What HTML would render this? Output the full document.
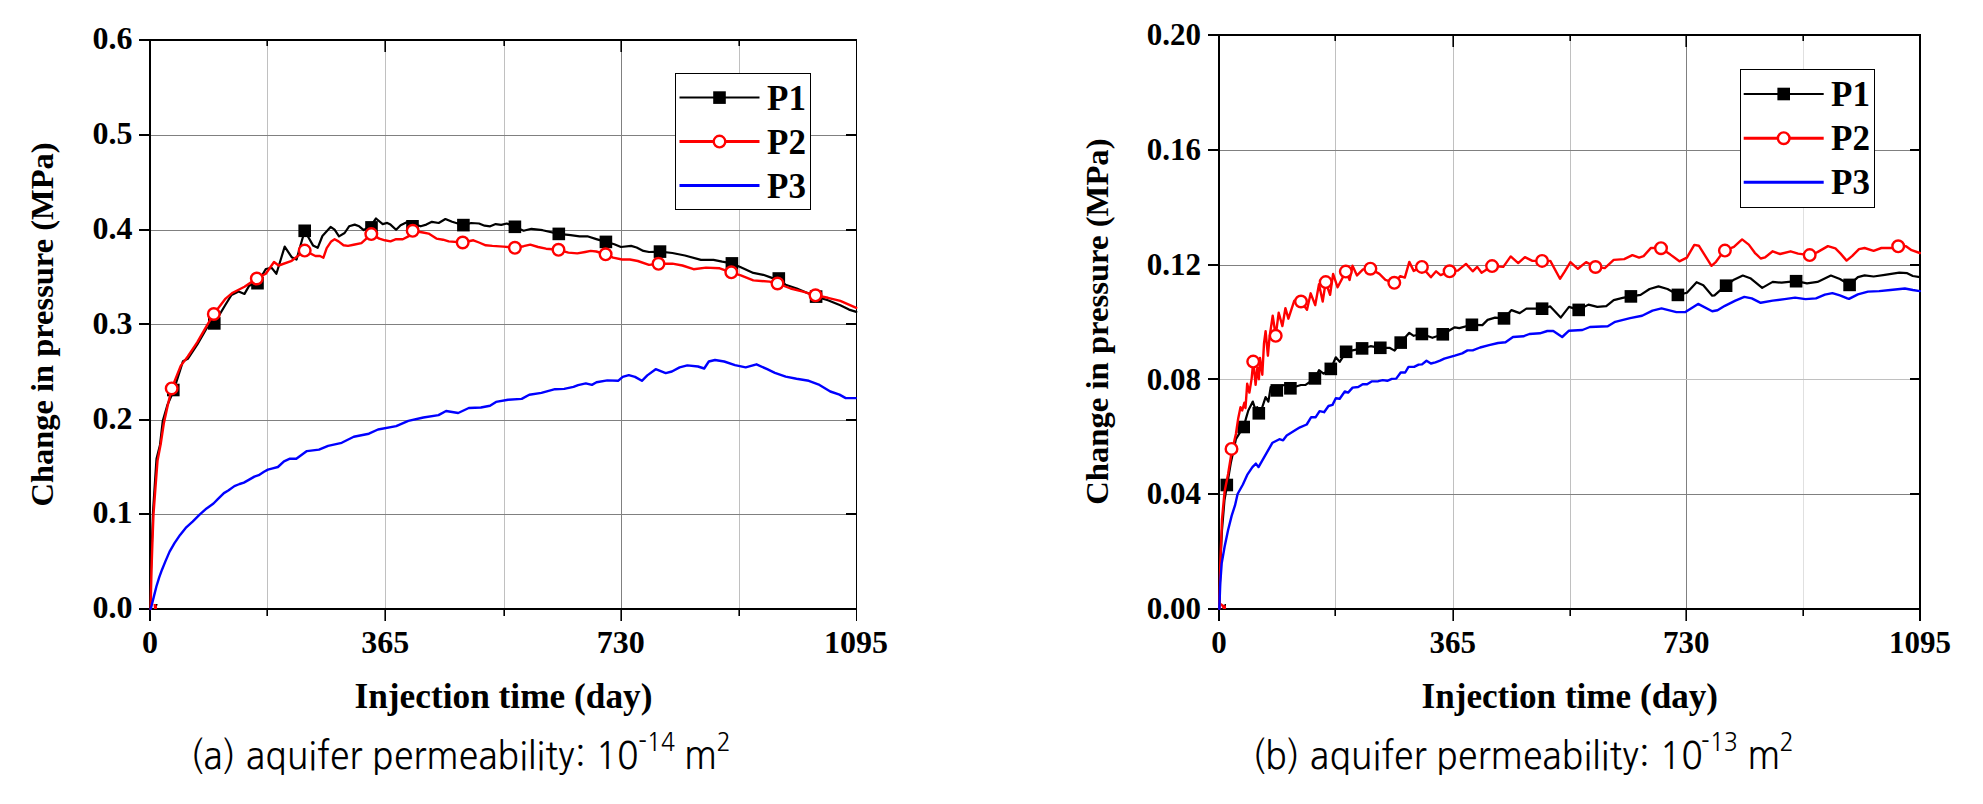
<!DOCTYPE html>
<html><head><meta charset="utf-8"><title>Change in pressure</title>
<style>html,body{margin:0;padding:0;background:#fff;}svg{display:block;}</style></head>
<body><svg width="1983" height="804" viewBox="0 0 1983 804">
<rect width="1983" height="804" fill="#fff"/>
<path d="M267.5 40 V609" stroke="#c0c0c0" stroke-width="1" fill="none"/>
<path d="M385.5 40 V609" stroke="#c0c0c0" stroke-width="1" fill="none"/>
<path d="M504.5 40 V609" stroke="#c0c0c0" stroke-width="1" fill="none"/>
<path d="M621.5 40 V609" stroke="#808080" stroke-width="1" fill="none"/>
<path d="M739.5 40 V609" stroke="#c0c0c0" stroke-width="1" fill="none"/>
<path d="M150 514.5 H856" stroke="#808080" stroke-width="1" fill="none"/>
<path d="M150 420.5 H856" stroke="#808080" stroke-width="1" fill="none"/>
<path d="M150 324.5 H856" stroke="#808080" stroke-width="1" fill="none"/>
<path d="M150 230.5 H856" stroke="#808080" stroke-width="1" fill="none"/>
<path d="M150 135.5 H856" stroke="#808080" stroke-width="1" fill="none"/>
<path d="M267.2 609 V616 M267.2 40 V46 M385.2 609 V621 M385.2 40 V52 M504.2 609 V616 M504.2 40 V46 M621.2 609 V621 M621.2 40 V52 M739.2 609 V616 M739.2 40 V46" stroke="#000" stroke-width="1.6" fill="none"/>
<path d="M856.5 609 V621" stroke="#000" stroke-width="1" fill="none"/>
<path d="M150 609 V621 M150 609.0 H139 M150 514.0 H139 M856 514.0 H846 M150 420.0 H139 M856 420.0 H846 M150 324.0 H139 M856 324.0 H846 M150 230.0 H139 M856 230.0 H846 M150 135.0 H139 M856 135.0 H846 M150 40.0 H139" stroke="#000" stroke-width="2" fill="none"/>
<path d="M150 40 H856 M150 609 H856 M150 40 V609" stroke="#000" stroke-width="2" fill="none" stroke-linecap="square"/>
<path d="M856.5 39 V610" stroke="#000" stroke-width="1" fill="none"/>
<text x="132.6" y="618.2" text-anchor="end" style="font-family:'Liberation Serif','Times New Roman',serif;font-weight:bold;font-size:32px">0.0</text>
<text x="132.6" y="523.4" text-anchor="end" style="font-family:'Liberation Serif','Times New Roman',serif;font-weight:bold;font-size:32px">0.1</text>
<text x="132.6" y="428.5" text-anchor="end" style="font-family:'Liberation Serif','Times New Roman',serif;font-weight:bold;font-size:32px">0.2</text>
<text x="132.6" y="333.7" text-anchor="end" style="font-family:'Liberation Serif','Times New Roman',serif;font-weight:bold;font-size:32px">0.3</text>
<text x="132.6" y="238.9" text-anchor="end" style="font-family:'Liberation Serif','Times New Roman',serif;font-weight:bold;font-size:32px">0.4</text>
<text x="132.6" y="144.0" text-anchor="end" style="font-family:'Liberation Serif','Times New Roman',serif;font-weight:bold;font-size:32px">0.5</text>
<text x="132.6" y="49.2" text-anchor="end" style="font-family:'Liberation Serif','Times New Roman',serif;font-weight:bold;font-size:32px">0.6</text>
<text x="150.0" y="652.5" text-anchor="middle" style="font-family:'Liberation Serif','Times New Roman',serif;font-weight:bold;font-size:32px">0</text>
<text x="385.3" y="652.5" text-anchor="middle" style="font-family:'Liberation Serif','Times New Roman',serif;font-weight:bold;font-size:32px">365</text>
<text x="620.7" y="652.5" text-anchor="middle" style="font-family:'Liberation Serif','Times New Roman',serif;font-weight:bold;font-size:32px">730</text>
<text x="856.0" y="652.5" text-anchor="middle" style="font-family:'Liberation Serif','Times New Roman',serif;font-weight:bold;font-size:32px">1095</text>
<text x="354.5" y="707.8" textLength="298.0" lengthAdjust="spacingAndGlyphs" style="font-family:'Liberation Serif','Times New Roman',serif;font-weight:bold;font-size:36px">Injection time (day)</text>
<text transform="translate(52.8 324.5) rotate(-90)" x="0" y="0" text-anchor="middle" textLength="364.0" lengthAdjust="spacingAndGlyphs" style="font-family:'Liberation Serif','Times New Roman',serif;font-weight:bold;font-size:32px">Change in pressure (MPa)</text>
<polyline points="150.4,609.0 151.0,570.0 152.0,540.0 153.0,512.0 156.5,458.8 160.0,445.0 162.8,420.7 167.4,405.0 173.6,390.7 183.0,361.2 187.8,358.8 197.2,344.7 206.7,328.1 214.3,323.4 225.6,304.5 231.5,295.0 238.6,291.5 244.5,293.9 249.2,285.6 257.5,283.2 265.8,269.0 271.7,267.9 276.4,273.8 280.0,262.0 284.7,246.6 291.7,257.2 296.5,259.6 301.2,243.0 304.7,230.8 313.0,245.4 317.7,247.8 322.4,236.0 326.7,231.3 330.6,226.9 334.6,229.7 339.0,236.4 344.6,233.0 349.1,226.3 354.7,224.6 359.2,226.3 363.7,230.2 371.3,225.2 376.0,218.5 382.7,224.1 387.2,222.9 390.5,224.6 396.1,229.7 400.6,225.2 406.2,222.4 412.7,223.7 420.7,226.3 426.3,224.6 431.9,221.8 438.7,223.0 445.4,219.0 452.1,221.8 463.5,225.2 471.1,223.0 479.0,223.5 484.6,225.7 490.2,226.3 495.7,224.1 501.2,224.9 506.8,223.5 514.9,226.8 523.6,230.7 531.4,228.8 542.6,230.2 558.8,233.9 570.6,235.2 579.6,236.3 587.4,236.3 596.3,239.1 605.9,241.9 614.3,244.2 621.0,247.0 631.1,245.9 636.6,247.5 643.4,250.9 649.0,252.0 660.0,251.6 672.4,253.0 684.9,255.5 701.0,259.9 713.5,259.9 722.2,261.7 731.9,263.4 740.8,267.3 753.3,272.9 763.2,274.8 771.9,277.9 778.8,278.5 785.6,284.8 796.8,288.5 806.8,292.8 816.1,296.6 827.9,300.3 840.3,305.3 849.0,309.6 856.3,311.9" fill="none" stroke="#000000" stroke-width="2.2" stroke-linejoin="round" stroke-linecap="round"/>
<rect x="167.0" y="383.7" width="12.6" height="12.6" fill="#000"/><rect x="208.0" y="317.1" width="12.6" height="12.6" fill="#000"/><rect x="251.2" y="276.9" width="12.6" height="12.6" fill="#000"/><rect x="298.4" y="224.5" width="12.6" height="12.6" fill="#000"/><rect x="365.2" y="221.1" width="12.6" height="12.6" fill="#000"/><rect x="406.2" y="220.0" width="12.6" height="12.6" fill="#000"/><rect x="457.1" y="218.8" width="12.6" height="12.6" fill="#000"/><rect x="508.6" y="220.5" width="12.6" height="12.6" fill="#000"/><rect x="552.5" y="227.6" width="12.6" height="12.6" fill="#000"/><rect x="599.6" y="235.6" width="12.6" height="12.6" fill="#000"/><rect x="653.7" y="245.3" width="12.6" height="12.6" fill="#000"/><rect x="725.6" y="257.1" width="12.6" height="12.6" fill="#000"/><rect x="772.5" y="272.2" width="12.6" height="12.6" fill="#000"/><rect x="809.8" y="290.3" width="12.6" height="12.6" fill="#000"/>
<polyline points="150.6,609.0 151.5,570.0 152.5,540.0 153.5,514.0 155.4,488.4 157.5,460.9 160.7,444.0 163.9,422.9 168.1,403.8 171.7,388.4 180.7,365.9 187.8,356.5 197.2,342.3 206.7,325.8 213.8,314.0 225.6,298.6 232.7,292.7 244.5,286.8 256.8,278.5 265.8,273.8 274.0,262.0 278.7,265.5 291.7,260.8 304.7,250.6 315.4,256.0 320.0,256.0 323.4,257.7 326.7,248.1 331.2,241.4 334.6,239.2 338.5,241.4 343.5,245.3 348.0,245.9 353.6,244.8 361.4,243.1 371.3,234.1 379.3,238.6 384.9,240.3 390.5,241.4 396.1,239.2 402.8,239.2 408.4,236.4 412.7,230.8 423.0,232.5 428.6,233.6 436.4,238.6 443.1,239.7 448.7,241.4 462.7,242.5 473.4,240.3 479.0,242.5 485.7,245.3 492.4,245.9 503.4,246.6 514.9,247.8 523.6,246.2 530.3,244.7 538.1,247.0 546.0,248.7 558.5,249.8 568.4,252.6 577.3,253.4 585.2,252.0 590.7,250.9 596.3,251.5 605.6,254.3 613.1,257.6 622.1,259.5 629.9,259.5 637.8,261.0 649.0,264.9 658.5,263.8 672.4,263.6 682.4,265.5 693.6,269.2 706.0,267.6 719.7,268.3 731.3,272.3 740.8,275.4 753.3,280.4 769.5,281.6 777.5,283.5 790.6,288.5 803.0,291.6 815.5,295.3 827.9,297.8 840.3,300.9 856.3,307.8" fill="none" stroke="#ff0000" stroke-width="2.4" stroke-linejoin="round" stroke-linecap="round"/>
<circle cx="171.7" cy="388.4" r="5.8" fill="#fff" stroke="#f00" stroke-width="2.4"/><circle cx="213.8" cy="314.0" r="5.8" fill="#fff" stroke="#f00" stroke-width="2.4"/><circle cx="256.8" cy="278.5" r="5.8" fill="#fff" stroke="#f00" stroke-width="2.4"/><circle cx="304.7" cy="250.6" r="5.8" fill="#fff" stroke="#f00" stroke-width="2.4"/><circle cx="371.3" cy="234.1" r="5.8" fill="#fff" stroke="#f00" stroke-width="2.4"/><circle cx="412.7" cy="230.8" r="5.8" fill="#fff" stroke="#f00" stroke-width="2.4"/><circle cx="462.7" cy="242.5" r="5.8" fill="#fff" stroke="#f00" stroke-width="2.4"/><circle cx="514.9" cy="247.8" r="5.8" fill="#fff" stroke="#f00" stroke-width="2.4"/><circle cx="558.5" cy="249.8" r="5.8" fill="#fff" stroke="#f00" stroke-width="2.4"/><circle cx="605.6" cy="254.3" r="5.8" fill="#fff" stroke="#f00" stroke-width="2.4"/><circle cx="658.5" cy="263.8" r="5.8" fill="#fff" stroke="#f00" stroke-width="2.4"/><circle cx="731.3" cy="272.3" r="5.8" fill="#fff" stroke="#f00" stroke-width="2.4"/><circle cx="777.5" cy="283.5" r="5.8" fill="#fff" stroke="#f00" stroke-width="2.4"/><circle cx="815.5" cy="295.3" r="5.8" fill="#fff" stroke="#f00" stroke-width="2.4"/>
<polyline points="150.6,609.0 150.8,608.8 153.6,597.6 156.4,586.5 159.2,577.4 162.0,569.7 165.4,561.4 169.6,551.6 174.5,543.2 180.1,534.9 185.7,527.9 192.6,521.6 199.6,514.6 206.6,508.4 213.5,503.5 217.8,499.2 223.9,493.1 228.3,490.5 234.4,486.1 239.6,484.0 243.9,482.6 249.2,479.6 254.4,476.6 258.7,475.2 264.0,471.8 267.9,469.6 272.7,468.3 277.9,467.0 284.0,461.3 290.0,458.7 296.3,458.7 306.9,451.1 319.0,449.6 328.1,445.8 341.7,442.8 353.8,436.7 368.9,433.7 378.0,429.5 396.2,426.1 408.3,420.8 423.4,417.5 438.5,415.1 446.1,411.0 458.2,413.0 468.8,408.0 480.9,407.5 490.0,405.7 496.0,401.9 508.1,399.7 521.7,398.9 529.3,394.8 541.4,392.9 555.0,389.2 564.2,388.9 573.5,386.9 578.1,385.1 585.8,383.4 591.9,384.9 596.5,382.3 607.3,380.4 618.1,380.8 622.7,376.9 628.8,375.1 635.0,376.9 641.9,380.8 647.3,375.4 655.7,369.2 665.7,373.1 671.9,371.5 679.6,367.4 687.3,365.4 698.0,366.5 704.2,368.5 708.8,361.5 715.0,360.0 724.2,361.5 735.0,365.1 745.7,367.4 756.5,364.3 767.2,369.2 774.9,372.8 785.7,376.6 796.5,378.8 808.8,380.8 819.5,384.9 830.3,391.5 839.5,394.6 845.7,398.1 855.7,398.1" fill="none" stroke="#0000ff" stroke-width="2.4" stroke-linejoin="round" stroke-linecap="round"/>
<rect x="675.5" y="73.5" width="135.0" height="136.0" fill="#fff" stroke="#000" stroke-width="1"/>
<line x1="679.5" y1="97.6" x2="759.5" y2="97.6" stroke="#000" stroke-width="2"/>
<rect x="713.2" y="91.3" width="12.6" height="12.6" fill="#000"/>
<line x1="679.5" y1="141.6" x2="759.5" y2="141.6" stroke="#f00" stroke-width="3"/>
<circle cx="719.5" cy="141.6" r="5.8" fill="#fff" stroke="#f00" stroke-width="2.4"/>
<line x1="679.5" y1="185.6" x2="759.5" y2="185.6" stroke="#00f" stroke-width="3"/>
<text x="767.0" y="109.6" style="font-family:'Liberation Serif','Times New Roman',serif;font-weight:bold;font-size:35px">P1</text>
<text x="767.0" y="153.6" style="font-family:'Liberation Serif','Times New Roman',serif;font-weight:bold;font-size:35px">P2</text>
<text x="767.0" y="197.6" style="font-family:'Liberation Serif','Times New Roman',serif;font-weight:bold;font-size:35px">P3</text>
<path d="M1335.5 35 V609" stroke="#c0c0c0" stroke-width="1" fill="none"/>
<path d="M1453.5 35 V609" stroke="#c0c0c0" stroke-width="1" fill="none"/>
<path d="M1570.5 35 V609" stroke="#c0c0c0" stroke-width="1" fill="none"/>
<path d="M1686.5 35 V609" stroke="#808080" stroke-width="1" fill="none"/>
<path d="M1803.5 35 V609" stroke="#e0e0e0" stroke-width="1" fill="none"/>
<path d="M1219 494.5 H1920" stroke="#808080" stroke-width="1" fill="none"/>
<path d="M1219 379.5 H1920" stroke="#c0c0c0" stroke-width="1" fill="none"/>
<path d="M1219 265.5 H1920" stroke="#808080" stroke-width="1" fill="none"/>
<path d="M1219 150.5 H1920" stroke="#808080" stroke-width="1" fill="none"/>
<path d="M1335.2 609 V616 M1335.2 35 V41 M1453.2 609 V621 M1453.2 35 V47 M1570.2 609 V616 M1570.2 35 V41 M1686.2 609 V621 M1686.2 35 V47 M1803.2 609 V616 M1803.2 35 V41" stroke="#000" stroke-width="1.6" fill="none"/>
<path d="M1920.0 609 V621" stroke="#000" stroke-width="2" fill="none"/>
<path d="M1219 609 V621 M1219 609.0 H1208 M1219 494.0 H1208 M1920 494.0 H1910 M1219 379.0 H1208 M1920 379.0 H1910 M1219 265.0 H1208 M1920 265.0 H1910 M1219 150.0 H1208 M1920 150.0 H1910 M1219 35.0 H1208" stroke="#000" stroke-width="2" fill="none"/>
<path d="M1219 35 H1920 M1219 609 H1920 M1219 35 V609" stroke="#000" stroke-width="2" fill="none" stroke-linecap="square"/>
<path d="M1920.0 34 V610" stroke="#000" stroke-width="2" fill="none"/>
<text x="1201.0" y="619.1" text-anchor="end" style="font-family:'Liberation Serif','Times New Roman',serif;font-weight:bold;font-size:31px">0.00</text>
<text x="1201.0" y="504.3" text-anchor="end" style="font-family:'Liberation Serif','Times New Roman',serif;font-weight:bold;font-size:31px">0.04</text>
<text x="1201.0" y="389.5" text-anchor="end" style="font-family:'Liberation Serif','Times New Roman',serif;font-weight:bold;font-size:31px">0.08</text>
<text x="1201.0" y="274.7" text-anchor="end" style="font-family:'Liberation Serif','Times New Roman',serif;font-weight:bold;font-size:31px">0.12</text>
<text x="1201.0" y="159.9" text-anchor="end" style="font-family:'Liberation Serif','Times New Roman',serif;font-weight:bold;font-size:31px">0.16</text>
<text x="1201.0" y="45.1" text-anchor="end" style="font-family:'Liberation Serif','Times New Roman',serif;font-weight:bold;font-size:31px">0.20</text>
<text x="1219.0" y="652.5" text-anchor="middle" style="font-family:'Liberation Serif','Times New Roman',serif;font-weight:bold;font-size:31px">0</text>
<text x="1452.7" y="652.5" text-anchor="middle" style="font-family:'Liberation Serif','Times New Roman',serif;font-weight:bold;font-size:31px">365</text>
<text x="1686.3" y="652.5" text-anchor="middle" style="font-family:'Liberation Serif','Times New Roman',serif;font-weight:bold;font-size:31px">730</text>
<text x="1920.0" y="652.5" text-anchor="middle" style="font-family:'Liberation Serif','Times New Roman',serif;font-weight:bold;font-size:31px">1095</text>
<text x="1421.5" y="707.8" textLength="296.5" lengthAdjust="spacingAndGlyphs" style="font-family:'Liberation Serif','Times New Roman',serif;font-weight:bold;font-size:36px">Injection time (day)</text>
<text transform="translate(1107.8 321.6) rotate(-90)" x="0" y="0" text-anchor="middle" textLength="366.3" lengthAdjust="spacingAndGlyphs" style="font-family:'Liberation Serif','Times New Roman',serif;font-weight:bold;font-size:32px">Change in pressure (MPa)</text>
<polyline points="1219.3,608.9 1220.5,560.0 1222.0,530.0 1224.5,500.0 1227.2,484.5 1230.7,463.6 1235.9,439.2 1240.2,432.2 1243.7,427.0 1246.0,418.4 1248.3,410.5 1252.8,401.6 1255.0,408.3 1257.3,407.2 1260.0,417.2 1262.3,407.2 1265.6,397.1 1268.4,401.6 1270.7,387.0 1275.2,390.4 1280.7,386.0 1285.2,384.8 1290.4,388.3 1300.9,385.0 1305.6,384.8 1314.9,378.4 1319.0,370.2 1323.5,373.6 1330.8,368.9 1335.8,357.3 1339.7,361.8 1346.1,351.8 1353.7,350.1 1362.1,348.4 1370.5,346.2 1380.3,347.8 1389.5,347.8 1394.6,350.6 1400.7,342.6 1409.3,332.8 1413.7,335.8 1421.9,334.0 1432.4,337.8 1442.8,334.3 1454.8,327.3 1459.3,328.1 1471.9,324.8 1482.4,325.1 1487.6,319.9 1495.1,317.6 1504.0,318.4 1511.5,310.1 1519.7,313.1 1526.4,308.7 1542.1,308.7 1550.3,306.4 1560.7,317.6 1569.0,306.9 1578.7,309.9 1588.4,304.6 1597.3,306.9 1606.3,306.1 1613.7,300.1 1622.7,297.9 1630.9,296.4 1640.6,294.9 1649.6,289.0 1658.5,286.4 1667.5,289.0 1677.9,294.9 1686.9,292.7 1696.6,282.2 1703.3,285.2 1712.2,295.7 1714.5,295.4 1720.4,290.1 1726.1,285.7 1733.9,279.7 1742.8,275.5 1750.3,278.2 1762.2,287.9 1772.7,281.9 1781.6,282.7 1796.1,281.2 1807.0,283.4 1817.5,281.9 1830.9,275.5 1839.9,279.0 1849.6,284.9 1857.9,277.1 1864.6,275.4 1873.6,276.5 1884.8,274.9 1899.3,272.6 1907.2,273.2 1912.8,276.0 1919.8,277.1" fill="none" stroke="#000000" stroke-width="2.2" stroke-linejoin="round" stroke-linecap="round"/>
<rect x="1220.5" y="478.7" width="12.6" height="12.6" fill="#000"/><rect x="1237.4" y="420.7" width="12.6" height="12.6" fill="#000"/><rect x="1252.5" y="407.0" width="12.6" height="12.6" fill="#000"/><rect x="1270.5" y="384.1" width="12.6" height="12.6" fill="#000"/><rect x="1284.1" y="382.0" width="12.6" height="12.6" fill="#000"/><rect x="1308.6" y="372.1" width="12.6" height="12.6" fill="#000"/><rect x="1324.5" y="362.6" width="12.6" height="12.6" fill="#000"/><rect x="1339.8" y="345.5" width="12.6" height="12.6" fill="#000"/><rect x="1355.8" y="342.1" width="12.6" height="12.6" fill="#000"/><rect x="1374.0" y="341.5" width="12.6" height="12.6" fill="#000"/><rect x="1394.4" y="336.3" width="12.6" height="12.6" fill="#000"/><rect x="1415.6" y="327.7" width="12.6" height="12.6" fill="#000"/><rect x="1436.5" y="328.0" width="12.6" height="12.6" fill="#000"/><rect x="1465.6" y="318.5" width="12.6" height="12.6" fill="#000"/><rect x="1497.7" y="312.1" width="12.6" height="12.6" fill="#000"/><rect x="1535.8" y="302.4" width="12.6" height="12.6" fill="#000"/><rect x="1572.4" y="303.6" width="12.6" height="12.6" fill="#000"/><rect x="1624.6" y="290.1" width="12.6" height="12.6" fill="#000"/><rect x="1671.6" y="288.6" width="12.6" height="12.6" fill="#000"/><rect x="1719.8" y="279.4" width="12.6" height="12.6" fill="#000"/><rect x="1789.8" y="274.9" width="12.6" height="12.6" fill="#000"/><rect x="1843.3" y="278.6" width="12.6" height="12.6" fill="#000"/>
<polyline points="1219.3,608.9 1220.3,563.4 1222.0,519.3 1224.6,491.4 1228.1,474.0 1231.5,453.0 1235.9,434.0 1238.2,418.4 1240.5,407.2 1242.2,410.5 1244.4,402.7 1245.5,408.0 1247.2,383.7 1249.4,392.6 1251.7,378.1 1253.3,360.8 1255.6,384.8 1257.3,368.0 1258.9,379.2 1260.0,358.0 1262.3,374.7 1264.0,343.4 1265.6,331.1 1267.9,355.7 1269.6,336.7 1272.7,315.7 1275.7,335.8 1278.7,312.7 1282.4,326.1 1285.4,308.2 1288.4,318.7 1294.3,300.7 1301.0,301.5 1307.0,309.7 1310.7,293.3 1315.2,305.2 1319.0,284.3 1322.7,301.5 1325.7,282.1 1330.1,294.8 1333.1,273.9 1337.6,287.3 1345.8,271.6 1349.6,279.9 1352.5,265.7 1357.0,275.4 1363.0,269.4 1370.4,268.7 1379.4,273.9 1385.4,279.9 1394.3,282.8 1400.3,276.1 1404.8,277.6 1409.3,261.9 1413.7,270.9 1421.9,266.9 1430.9,277.3 1436.1,271.3 1440.6,275.1 1449.6,271.3 1457.8,270.6 1466.0,263.9 1472.7,271.3 1477.2,266.9 1481.6,272.8 1492.1,266.1 1503.3,266.9 1510.7,256.4 1518.2,263.1 1524.9,257.2 1532.4,260.9 1542.1,260.9 1550.3,260.9 1560.0,278.8 1564.5,271.8 1570.4,262.1 1577.9,268.8 1586.1,262.1 1595.5,267.0 1604.8,268.1 1613.7,259.9 1624.2,259.1 1632.4,255.1 1639.1,257.6 1643.6,256.1 1651.0,247.9 1661.0,248.2 1670.4,254.6 1679.4,261.3 1686.9,257.6 1694.3,244.9 1698.8,245.7 1711.5,265.8 1716.0,261.8 1720.4,255.8 1724.9,250.6 1733.9,246.9 1742.1,239.4 1748.8,244.6 1754.8,252.8 1760.7,258.5 1765.2,257.3 1772.7,251.3 1780.1,254.0 1790.6,251.3 1798.1,253.6 1809.7,255.1 1817.5,252.1 1827.9,246.1 1835.4,248.4 1840.6,253.6 1846.6,260.6 1852.3,255.8 1859.0,249.1 1864.6,248.0 1873.6,250.8 1881.4,248.0 1892.6,248.0 1898.2,246.3 1906.0,246.3 1911.6,250.2 1919.8,253.0" fill="none" stroke="#ff0000" stroke-width="2.4" stroke-linejoin="round" stroke-linecap="round"/>
<circle cx="1231.5" cy="448.9" r="5.8" fill="#fff" stroke="#f00" stroke-width="2.4"/><circle cx="1253.2" cy="361.6" r="5.8" fill="#fff" stroke="#f00" stroke-width="2.4"/><circle cx="1275.7" cy="335.8" r="5.8" fill="#fff" stroke="#f00" stroke-width="2.4"/><circle cx="1301.0" cy="301.5" r="5.8" fill="#fff" stroke="#f00" stroke-width="2.4"/><circle cx="1325.7" cy="282.1" r="5.8" fill="#fff" stroke="#f00" stroke-width="2.4"/><circle cx="1345.8" cy="271.6" r="5.8" fill="#fff" stroke="#f00" stroke-width="2.4"/><circle cx="1370.4" cy="268.7" r="5.8" fill="#fff" stroke="#f00" stroke-width="2.4"/><circle cx="1394.3" cy="282.8" r="5.8" fill="#fff" stroke="#f00" stroke-width="2.4"/><circle cx="1421.9" cy="266.9" r="5.8" fill="#fff" stroke="#f00" stroke-width="2.4"/><circle cx="1449.6" cy="271.3" r="5.8" fill="#fff" stroke="#f00" stroke-width="2.4"/><circle cx="1492.1" cy="266.1" r="5.8" fill="#fff" stroke="#f00" stroke-width="2.4"/><circle cx="1542.1" cy="260.9" r="5.8" fill="#fff" stroke="#f00" stroke-width="2.4"/><circle cx="1595.5" cy="267.0" r="5.8" fill="#fff" stroke="#f00" stroke-width="2.4"/><circle cx="1661.0" cy="248.2" r="5.8" fill="#fff" stroke="#f00" stroke-width="2.4"/><circle cx="1724.9" cy="250.6" r="5.8" fill="#fff" stroke="#f00" stroke-width="2.4"/><circle cx="1809.7" cy="255.1" r="5.8" fill="#fff" stroke="#f00" stroke-width="2.4"/><circle cx="1898.2" cy="246.3" r="5.8" fill="#fff" stroke="#f00" stroke-width="2.4"/>
<polyline points="1219.3,608.9 1220.3,582.6 1221.7,563.4 1224.6,546.7 1228.1,530.0 1231.7,515.6 1235.0,505.4 1237.6,494.0 1242.9,484.5 1247.2,474.9 1252.4,467.1 1255.9,463.6 1258.5,467.1 1265.5,454.9 1272.5,442.7 1279.4,439.2 1283.1,440.3 1286.7,435.5 1296.3,429.6 1300.0,427.3 1306.7,424.5 1311.2,417.2 1315.7,417.2 1319.6,411.1 1324.1,412.2 1328.5,406.0 1332.5,404.9 1335.8,398.2 1339.7,398.8 1344.8,391.5 1348.1,392.6 1352.6,387.6 1358.2,387.0 1362.7,384.2 1367.1,384.2 1371.6,381.4 1378.3,381.2 1382.8,380.1 1387.3,380.8 1391.8,378.9 1396.2,378.6 1400.7,372.5 1405.2,372.5 1408.5,366.9 1414.1,366.9 1418.6,364.6 1422.0,364.4 1426.5,360.7 1430.9,363.5 1435.4,362.4 1440.0,360.7 1444.3,358.7 1454.8,355.7 1462.2,353.4 1467.5,350.4 1472.7,350.4 1480.1,347.5 1489.1,345.2 1498.1,343.0 1505.5,342.2 1513.0,337.0 1523.4,336.3 1529.4,334.0 1539.9,333.3 1547.3,331.0 1553.3,331.0 1562.2,337.0 1569.0,330.7 1582.4,330.0 1589.9,327.0 1607.8,326.3 1615.2,321.8 1630.1,318.1 1642.1,315.8 1652.5,310.6 1661.5,308.4 1676.4,312.1 1685.4,312.1 1698.1,303.9 1712.2,311.3 1717.5,310.3 1724.9,305.8 1735.4,300.6 1744.3,296.9 1751.8,298.4 1760.7,302.8 1772.7,300.6 1784.6,299.1 1795.1,297.6 1805.5,299.1 1816.0,298.4 1824.9,294.6 1832.4,293.1 1839.9,295.4 1847.3,298.4 1849.0,298.9 1857.9,294.4 1868.0,291.6 1879.2,291.1 1890.4,290.0 1904.9,288.5 1912.8,290.0 1919.8,291.1" fill="none" stroke="#0000ff" stroke-width="2.4" stroke-linejoin="round" stroke-linecap="round"/>
<rect x="1740.5" y="69.5" width="134.0" height="138.0" fill="#fff" stroke="#000" stroke-width="1"/>
<line x1="1743.7" y1="94.0" x2="1823.7" y2="94.0" stroke="#000" stroke-width="2"/>
<rect x="1777.4" y="87.7" width="12.6" height="12.6" fill="#000"/>
<line x1="1743.7" y1="138.2" x2="1823.7" y2="138.2" stroke="#f00" stroke-width="3"/>
<circle cx="1783.7" cy="138.2" r="5.8" fill="#fff" stroke="#f00" stroke-width="2.4"/>
<line x1="1743.7" y1="182.2" x2="1823.7" y2="182.2" stroke="#00f" stroke-width="3"/>
<text x="1831.0" y="106.0" style="font-family:'Liberation Serif','Times New Roman',serif;font-weight:bold;font-size:35px">P1</text>
<text x="1831.0" y="150.2" style="font-family:'Liberation Serif','Times New Roman',serif;font-weight:bold;font-size:35px">P2</text>
<text x="1831.0" y="194.2" style="font-family:'Liberation Serif','Times New Roman',serif;font-weight:bold;font-size:35px">P3</text>
<path d="M153.5 604 L157 604 L157 609 L154 609 Z" fill="#f00"/><rect x="156" y="604" width="1.5" height="1.5" fill="#000"/>
<path d="M1221 603 L1224 605 L1226 605 L1226 609 L1223 609 L1221 605.5 Z" fill="#f00"/><rect x="1224.5" y="604" width="1.5" height="1.5" fill="#000"/>
<g transform="translate(0 769) scale(1 1.06) translate(0 -769)" style="font-family:'NanumGothic','Noto Sans CJK KR',sans-serif;font-weight:normal"><text x="190.3" y="769" style="font-size:35.7px">(a) aquifer permeability: 10</text><text x="638.3" y="752" style="font-size:23.5px">-14</text><text x="683.9" y="769" style="font-size:36.5px">m</text><text x="716.6" y="752" style="font-size:23.5px">2</text></g>
<g transform="translate(0 769) scale(1 1.06) translate(0 -769)" style="font-family:'NanumGothic','Noto Sans CJK KR',sans-serif;font-weight:normal"><text x="1252.3" y="769" style="font-size:35.7px">(b) aquifer permeability: 10</text><text x="1701.1" y="752" style="font-size:23.5px">-13</text><text x="1747.2" y="769" style="font-size:36.5px">m</text><text x="1779.4" y="752" style="font-size:23.5px">2</text></g>
</svg></body></html>
